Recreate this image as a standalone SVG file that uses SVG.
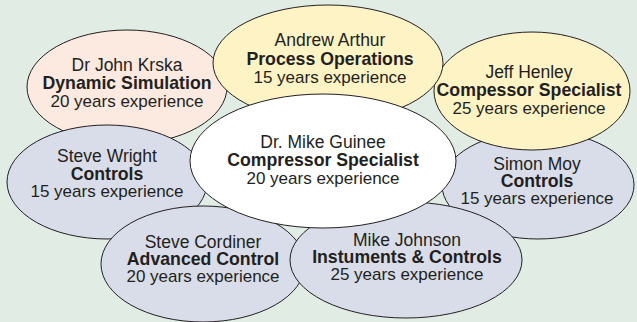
<svg xmlns="http://www.w3.org/2000/svg" width="637" height="322" viewBox="0 0 637 322">
<style>
.bg{fill:#e1ede4}
ellipse{stroke:#231f20;stroke-width:1}
.pink{fill:#fce9e0}
.yel{fill:#fdf3c4}
.blue{fill:#d9dde9}
.white{fill:#ffffff}
text{font-family:"Liberation Sans",Arial,sans-serif;fill:#231f20;text-anchor:middle}
.n{font-size:17.5px}
.b{font-size:17.7px;font-weight:bold}
.e{font-size:17px}
</style>
<rect class="bg" x="0" y="0" width="637" height="322"/>
<g id="simon-moy">
<ellipse class="blue" cx="538" cy="185" rx="96" ry="54"/>
<text class="n" x="537" y="170">Simon Moy</text>
<text class="b" x="537" y="187">Controls</text>
<text class="e" x="537" y="204">15 years experience</text>
</g>
<g id="john-krska">
<ellipse class="pink" cx="127" cy="87" rx="100" ry="57"/>
<text class="n" x="127" y="71">Dr John Krska</text>
<text class="b" x="127" y="89">Dynamic Simulation</text>
<text class="e" x="127" y="107">20 years experience</text>
</g>
<g id="jeff-henley">
<ellipse class="yel" cx="532" cy="91" rx="98" ry="59"/>
<text class="n" x="529" y="78">Jeff Henley</text>
<text class="b" x="529" y="96">Compessor Specialist</text>
<text class="e" x="529" y="114">25 years experience</text>
</g>
<g id="andrew-arthur">
<ellipse class="yel" cx="328" cy="63" rx="115" ry="58"/>
<text class="n" x="330" y="46">Andrew Arthur</text>
<text class="b" x="330" y="65">Process Operations</text>
<text class="e" x="330" y="83">15 years experience</text>
</g>
<g id="steve-wright">
<ellipse class="blue" cx="107" cy="182" rx="100" ry="57"/>
<text class="n" x="107" y="162">Steve Wright</text>
<text class="b" x="107" y="180">Controls</text>
<text class="e" x="107" y="197">15 years experience</text>
</g>
<g id="steve-cordiner">
<ellipse class="blue" cx="203" cy="264" rx="102" ry="58"/>
<text class="n" x="203" y="248">Steve Cordiner</text>
<text class="b" x="203" y="265">Advanced Control</text>
<text class="e" x="203" y="282">20 years experience</text>
</g>
<g id="mike-johnson">
<ellipse class="blue" cx="406" cy="260" rx="116" ry="58"/>
<text class="n" x="407" y="246">Mike Johnson</text>
<text class="b" x="407" y="263">Instuments &amp; Controls</text>
<text class="e" x="407" y="280">25 years experience</text>
</g>
<g id="mike-guinee">
<ellipse class="white" cx="323" cy="161" rx="133" ry="67"/>
<text class="n" x="323" y="148">Dr. Mike Guinee</text>
<text class="b" x="323" y="166">Compressor Specialist</text>
<text class="e" x="323" y="184">20 years experience</text>
</g>
<g id="connectors"></g>
</svg>
